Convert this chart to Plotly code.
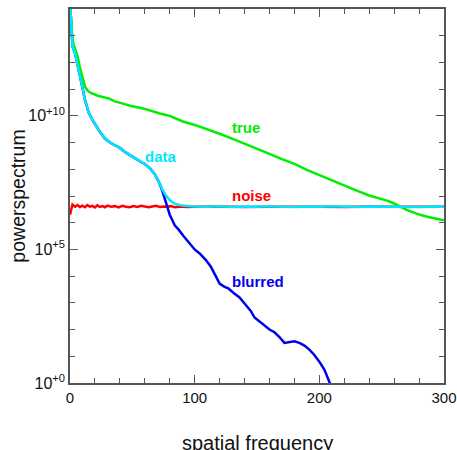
import numpy as np
import plotly.graph_objects as go

# ---- data (log10 of power) ----
true_x = [0, 1, 2, 3, 4, 6, 8, 10, 12, 14, 17, 20, 23, 27, 31, 36, 40, 44, 48, 52, 56, 60, 64, 68, 72,
          80, 90, 100, 110, 120, 130, 140, 150, 160, 170, 180, 190, 200, 210, 220, 230, 240, 250,
          255, 260, 265, 270, 278, 285, 292, 300]
true_log = [14.2, 13.4, 12.9, 12.65, 12.5, 12.25, 11.8, 11.4, 11.1, 10.95, 10.85, 10.8, 10.74, 10.7, 10.65,
            10.54, 10.5, 10.44, 10.38, 10.35, 10.3, 10.26, 10.2, 10.15, 10.09,
            10.0, 9.8, 9.66, 9.5, 9.33, 9.15, 8.97, 8.76, 8.58, 8.38, 8.2, 7.98, 7.78, 7.57, 7.37, 7.2,
            7.02, 6.88, 6.82, 6.72, 6.6, 6.48, 6.34, 6.24, 6.17, 6.09]

noise_x = [0, 1, 2, 4, 6, 8, 10, 12, 14, 16, 18, 20, 22, 24, 26, 28, 30, 33, 36, 39, 42, 45, 48, 51,
           54, 57, 60, 63, 66, 69, 72, 75, 78, 81, 84, 87, 90, 93, 96, 100, 120, 140, 160, 180, 200,
           220, 240, 260, 280, 300]
noise_log = [6.30, 6.55, 6.68, 6.60, 6.66, 6.59, 6.64, 6.58, 6.66, 6.60, 6.63, 6.57, 6.65, 6.59, 6.62,
             6.58, 6.64, 6.60, 6.62, 6.57, 6.63, 6.60, 6.58, 6.62, 6.59, 6.63, 6.60, 6.58, 6.61, 6.63,
             6.59, 6.61, 6.60, 6.62, 6.58, 6.60, 6.61, 6.59, 6.60, 6.60, 6.61, 6.59, 6.60, 6.61, 6.60,
             6.59, 6.61, 6.60, 6.60, 6.60]

blurred_x = [0, 1, 2, 4, 6, 8, 10, 12, 15, 18, 21, 24, 28, 32, 36, 40, 44, 48, 52, 56, 60, 64, 68, 71,
             74, 77, 80, 84, 87, 91, 95, 100, 104, 109, 113, 117, 120, 124, 127, 131, 136, 141, 145,
             148, 152, 156, 160, 164, 168, 172, 176, 180, 184, 188, 192, 196, 200, 204, 208, 211]
blurred_log = [14.3, 13.1, 12.6, 12.35, 11.95, 11.55, 11.05, 10.6, 10.12, 9.85, 9.6, 9.4, 9.15, 9.0,
               8.9, 8.8, 8.65, 8.55, 8.42, 8.3, 8.2, 8.04, 7.82, 7.55, 7.2, 6.75, 6.3, 5.9, 5.75, 5.5,
               5.28, 5.0, 4.85, 4.6, 4.35, 4.0, 3.72, 3.6, 3.54, 3.38, 3.2, 2.92, 2.7, 2.45, 2.3, 2.12,
               2.0, 1.9, 1.72, 1.5, 1.52, 1.56, 1.5, 1.4, 1.25, 1.05, 0.8, 0.5, 0.05, -0.4]

data_x = [0, 1, 2, 4, 6, 8, 10, 12, 15, 18, 21, 24, 28, 32, 36, 40, 44, 48, 52, 56, 60, 64, 68, 71,
          74, 77, 80, 83, 86, 90, 95, 100, 110, 120, 130, 140, 150, 160, 170, 180, 190, 200, 210,
          220, 230, 240, 250, 260, 270, 280, 290, 300]
data_log = [14.3, 13.1, 12.6, 12.35, 11.95, 11.55, 11.05, 10.6, 10.12, 9.85, 9.6, 9.4, 9.15, 9.0,
            8.9, 8.8, 8.65, 8.55, 8.42, 8.3, 8.2, 8.04, 7.82, 7.55, 7.25, 7.02, 6.85, 6.74, 6.68,
            6.64, 6.62, 6.61, 6.60, 6.62, 6.59, 6.61, 6.60, 6.62, 6.60, 6.59, 6.61, 6.60, 6.62, 6.60,
            6.59, 6.61, 6.60, 6.61, 6.60, 6.59, 6.61, 6.60]

labels = ["true", "data", "noise", "blurred"]
label_x = [128.5, 58.5, 128.5, 128.5]
label_log = [9.57, 8.49, 7.03, 3.81]

GREEN = "#00ee00"
CYAN = "#00e6ff"
RED = "#ff0000"
BLUE = "#0000ee"
label_colors = [GREEN, CYAN, RED, BLUE]

fig = go.Figure()
fig.add_trace(go.Scatter(x=noise_x, y=np.power(10.0, noise_log), mode="lines",
                         line=dict(color=RED, width=2.5)))
fig.add_trace(go.Scatter(x=blurred_x, y=np.power(10.0, blurred_log), mode="lines",
                         line=dict(color=BLUE, width=2.5)))
fig.add_trace(go.Scatter(x=true_x, y=np.power(10.0, true_log), mode="lines",
                         line=dict(color=GREEN, width=2.5)))
fig.add_trace(go.Scatter(x=data_x, y=np.power(10.0, data_log), mode="lines",
                         line=dict(color=CYAN, width=2.5)))

for t, lx, ly, c in zip(labels, label_x, label_log, label_colors):
    # annotation y on a log axis is given in log10 units
    fig.add_annotation(x=lx, y=ly, text="<b>%s</b>" % t, showarrow=False,
                       xanchor="left", yanchor="middle",
                       font=dict(color=c, size=15, family="Liberation Sans, Arial, sans-serif"))

TITLE_FONT = dict(size=20, color="#111111", family="Liberation Sans, Arial, sans-serif")
# axis titles placed as annotations
fig.add_annotation(x=-0.14, y=0.5, xref="paper", yref="paper", text="powerspectrum",
                   textangle=-90, showarrow=False, xanchor="center", yanchor="middle",
                   font=dict(TITLE_FONT, size=19.5))
fig.add_annotation(x=0.5, y=-0.127, xref="paper", yref="paper", text="spatial frequency",
                   showarrow=False, xanchor="center", yanchor="top", font=TITLE_FONT)

AX = "#555555"
ytick_vals = [1, 1e5, 1e10]
ytick_text = ["10<sup>+0</sup>", "10<sup>+5</sup>", "10<sup>+10</sup>"]
xtick_vals = [0, 100, 200, 300]

fig.update_layout(
    width=457, height=450,
    margin=dict(l=70, r=13, t=9, b=67),
    paper_bgcolor="white", plot_bgcolor="white",
    showlegend=False,
    font=dict(family="Liberation Sans, Arial, sans-serif", color="#111111", size=15),
    xaxis=dict(range=[0, 300], tickvals=xtick_vals, ticktext=[str(v) for v in xtick_vals],
               automargin=False, tickfont=dict(size=15),
               ticks="inside", ticklen=8, tickwidth=1.2, tickcolor=AX,
               showline=True, linecolor=AX, linewidth=1.5, mirror="allticks",
               showgrid=False, zeroline=False,
               minor=dict(tickvals=list(range(0, 301, 20)), ticks="inside", ticklen=5,
                          tickcolor=AX, tickwidth=1.2)),
    yaxis=dict(type="log", range=[0, 14], tickvals=ytick_vals, ticktext=ytick_text,
               automargin=False, tickfont=dict(size=16),
               ticks="inside", ticklen=8, tickwidth=1.2, tickcolor=AX,
               showline=True, linecolor=AX, linewidth=1.5, mirror="allticks",
               showgrid=False, zeroline=False,
               minor=dict(tickvals=[10.0 ** k for k in range(0, 15)], ticks="inside", ticklen=5,
                          tickcolor=AX, tickwidth=1.2)),
)

fig.write_html("out.html")
